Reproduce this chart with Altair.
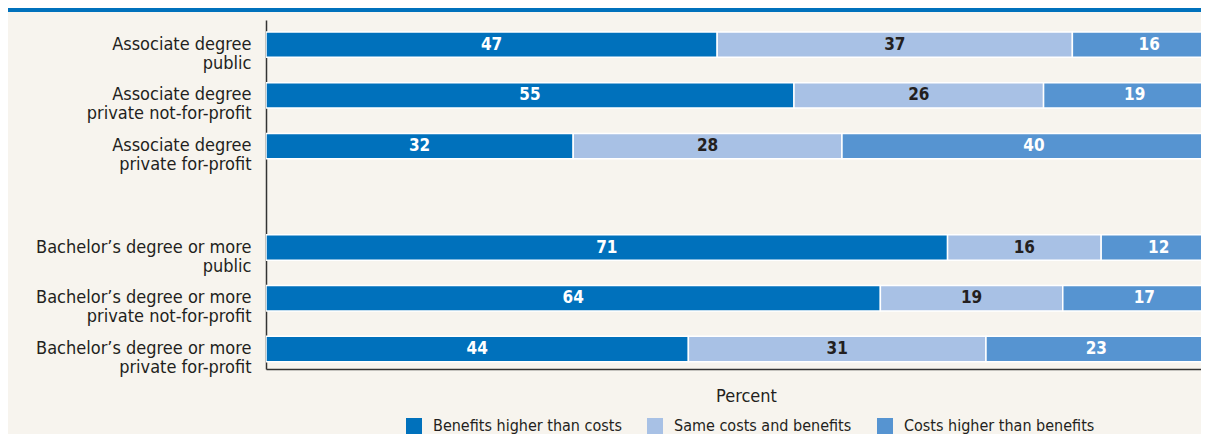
import altair as alt
import pandas as pd

# ---- data -------------------------------------------------------------
categories = [
    "Associate degree|public",
    "Associate degree|private not-for-profit",
    "Associate degree|private for-profit",
    "Bachelor’s degree or more|public",
    "Bachelor’s degree or more|private not-for-profit",
    "Bachelor’s degree or more|private for-profit",
]
spacer = " "
y_order = categories[:3] + [spacer] + categories[3:]

series = ["Benefits higher than costs", "Same costs and benefits", "Costs higher than benefits"]
benefits = [47, 55, 32, 71, 64, 44]
same = [37, 26, 28, 16, 19, 31]
costs = [16, 19, 40, 12, 17, 23]
colors = ["#0071bc", "#a8c1e5", "#5694d1"]

rows = []
for i, c in enumerate(categories):
    for k, (s, v) in enumerate(zip(series, [benefits[i], same[i], costs[i]])):
        rows.append({"cat": c, "series": s, "order": k, "value": v})
df = pd.DataFrame(rows)

FONT = "Liberation Sans Narrow, DejaVu Sans Condensed, sans-serif"
W, H = 935, 349

base = alt.Chart(df).transform_stack(
    stack="value", groupby=["cat"], sort=[alt.SortField("order")], as_=["start", "end"]
).transform_calculate(mid="(datum.start + datum.end) / 2")

y_enc = alt.Y(
    "cat:N",
    sort=y_order,
    scale=alt.Scale(domain=y_order, paddingInner=0.5, paddingOuter=0.19, align=0.62),
    axis=alt.Axis(
        title=None,
        labelExpr="split(datum.label, '|')",
        ticks=False,
        labelPadding=15,
        domainColor="#333333",
        domainWidth=1.5,
        labelFontSize=18,
        labelLineHeight=19,
        labelLimit=400,
        labelColor="#231f20",
        labelFont=FONT,
    ),
)

x_scale = alt.Scale(domain=[0, 97.4], nice=False, zero=True)

bars = base.mark_bar(stroke="white", strokeWidth=1.5, clip=True).encode(
    x=alt.X(
        "start:Q",
        scale=x_scale,
        axis=alt.Axis(
            labels=False,
            ticks=False,
            grid=False,
            title="Percent",
            titleFont=FONT,
            titleFontSize=18,
            titleFontWeight="normal",
            titleColor="#231f20",
            titlePadding=18,
            titleX=480,
            domainColor="#333333",
            domainWidth=1.5,
        ),
    ),
    x2="end:Q",
    y=y_enc,
    color=alt.Color(
        "series:N",
        sort=series,
        scale=alt.Scale(domain=series, range=colors),
        legend=alt.Legend(
            orient="none",
            legendX=140,
            legendY=398,
            direction="horizontal",
            title=None,
            symbolType="square",
            symbolSize=256,
            symbolStrokeWidth=0,
            labelFontSize=16,
            labelFont=FONT,
            labelColor="#231f20",
            labelOffset=11,
            columnPadding=25,
            labelLimit=400,
        ),
    ),
    order=alt.Order("order:Q"),
)

labels = base.mark_text(fontWeight="bold", fontSize=17, font=FONT, baseline="middle").encode(
    x=alt.X("mid:Q", scale=x_scale),
    y=alt.Y("cat:N", sort=y_order),
    text=alt.Text("value:Q"),
    color=alt.condition(
        alt.datum.series == "Same costs and benefits", alt.value("#231f20"), alt.value("white")
    ),
)

stripe = alt.Chart(pd.DataFrame({"a": [0]})).mark_rect(color="#0071bc").encode(
    x=alt.value(-258), x2=alt.value(W), y=alt.value(-12), y2=alt.value(-8)
)

chart = (
    alt.layer(stripe, bars, labels)
    .properties(
        width=W,
        height=H,
        autosize=alt.AutoSizeParams(type="none"),
        padding={"left": 258, "top": 12, "right": 0, "bottom": 65},
        background="#f7f4ee",
    )
    .configure_view(stroke=None)
)

chart.save("out.html", embed_options={"renderer": "svg", "actions": False})
